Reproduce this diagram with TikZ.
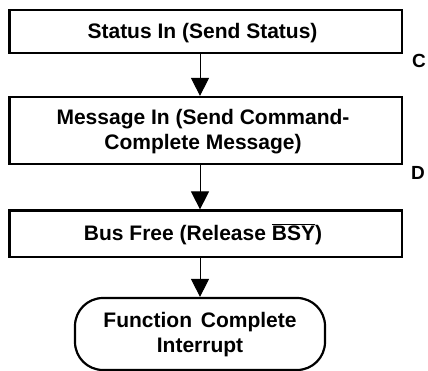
\documentclass[tikz,border=0pt]{standalone}
\usepackage{fontspec}
\setmainfont{Liberation Sans}
\usetikzlibrary{arrows.meta}
\begin{document}
\begin{tikzpicture}[x=1pt,y=-1pt,
  box/.style={draw,line width=2.2pt,rectangle,inner sep=0pt},
  term/.style={draw,line width=2.2pt,rectangle,rounded corners=28pt,inner sep=0pt},
  txt/.style={font=\fontsize{21}{25}\selectfont\bfseries,align=center,inner sep=0pt},
  lbl/.style={font=\fontsize{19}{22}\selectfont\bfseries,inner sep=0pt},
  arr/.style={line width=1pt,-{Triangle[width=18pt,length=18pt]}}]
\useasboundingbox (0,0) rectangle (428,371);
\coordinate (ax) at (200,0);
% boxes
\node[box,minimum width=392.5pt,minimum height=43pt] (b1) at (205.75,31.5) {};
\node[box,minimum width=392.5pt,minimum height=67pt] (b2) at (205.75,130.5) {};
\node[box,minimum width=392.5pt,minimum height=46.5pt] (b3) at (205.75,233.75) {};
\node[term,minimum width=250pt,minimum height=72pt] (b4) at (200,334) {};
% texts
\node[txt] (t1) at (202.5,33) {Status In (Send Status)};
\node[txt] (t2) at (203,132) {Message In (Send Command-\\Complete Message)};
\node[txt] (t3) at (203,234) {Bus Free (Release $\overline{\mbox{BSY}}$)};
\node[txt] (t4) at (200,335) {Function\hspace{3pt} Complete\\Interrupt};
% side labels
\node[lbl] (c) at (419,61) {C};
\node[lbl] (d) at (418,173) {D};
% arrows
\draw[arr] (b1.south -| ax) -- (b2.north -| ax);
\draw[arr] (b2.south -| ax) -- (b3.north -| ax);
\draw[arr] (b3.south -| ax) -- (b4.north -| ax);
\end{tikzpicture}
\end{document}
